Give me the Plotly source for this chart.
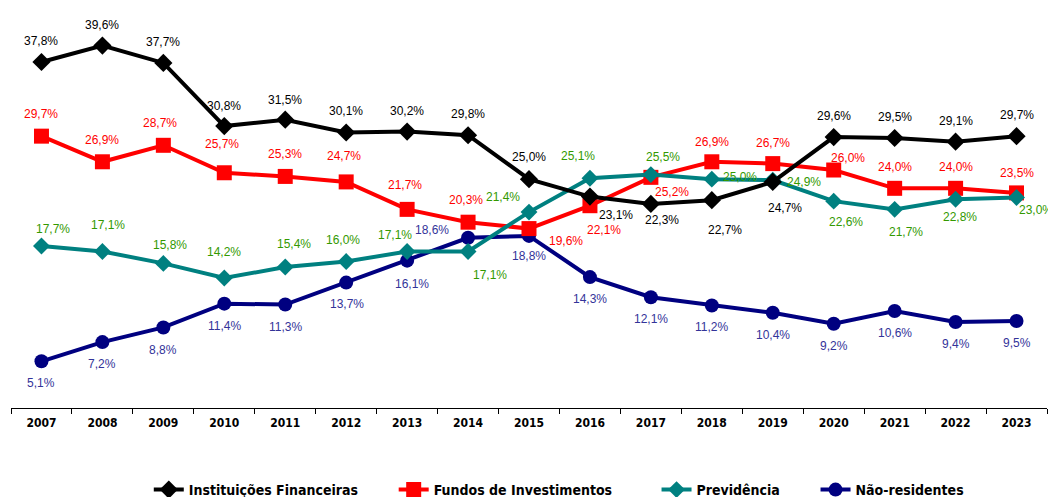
import plotly.graph_objects as go

years = [str(y) for y in range(2007, 2024)]
inst = [37.8, 39.6, 37.7, 30.8, 31.5, 30.1, 30.2, 29.8, 25.0, 23.1, 22.3, 22.7, 24.7, 29.6, 29.5, 29.1, 29.7]
fundos = [29.7, 26.9, 28.7, 25.7, 25.3, 24.7, 21.7, 20.3, 19.6, 22.1, 25.2, 26.9, 26.7, 26.0, 24.0, 24.0, 23.5]
prev = [17.7, 17.1, 15.8, 14.2, 15.4, 16.0, 17.1, 17.1, 21.4, 25.1, 25.5, 25.0, 24.9, 22.6, 21.7, 22.8, 23.0]
nres = [5.1, 7.2, 8.8, 11.4, 11.3, 13.7, 16.1, 18.6, 18.8, 14.3, 12.1, 11.2, 10.4, 9.2, 10.6, 9.4, 9.5]

names = ["Instituições Financeiras", "Fundos de Investimentos", "Previdência", "Não-residentes"]

# label pixel offsets (dx, dy) ; dy positive = downward on screen
off_inst = [(0, -21), (0, -21), (0, -21), (0, -20), (0, -20), (0, -21), (0, -21), (0, -21), (0, -22),
            (26, 18), (11, 16), (13, 30), (12, 26), (0, -21), (0, -21), (0, -21), (0, -21)]
off_fund = [(0, -22), (0, -22), (-3, -22), (-2, -29), (0, -22), (-2, -26), (-2, -24), (-2, -22), (37, 12),
            (14, 24), (21, 15), (0, -20), (0, -21), (14, -12), (0, -21), (0, -21), (0, -20)]
off_prev = [(12, -17), (6, -26), (7, -18), (0, -26), (9, -23), (-3, -22), (-12, -16), (22, 24), (-26, -15),
            (-12, -22), (12, -18), (28, -2), (31, 2), (12, 21), (11, 23), (4, 18), (19, 13)]
off_nres = [(0, 22), (0, 22), (0, 23), (0, 22), (0, 22), (1, 21), (5, 23), (-36, -8), (0, 20),
            (0, 22), (0, 22), (0, 22), (0, 22), (0, 22), (0, 22), (0, 22), (0, 22)]

NB = "\u00a0"
series = [
    dict(name=names[3], y=nres, color="#000080", lab="#333399", sym="circle", size=14, off=off_nres, rank=4, pad=""),
    dict(name=names[1], y=fundos, color="#FF0000", lab="#FF0000", sym="square", size=15, off=off_fund, rank=2, pad=NB * 9),
    dict(name=names[2], y=prev, color="#008080", lab="#339900", sym="diamond", size=13, off=off_prev, rank=3, pad=NB * 7),
    dict(name=names[0], y=inst, color="#000000", lab="#000000", sym="diamond", size=14, off=off_inst, rank=1, pad=NB * 7),
]

NARROW = "DejaVu Sans Condensed, Liberation Sans Narrow, Arial Narrow, sans-serif"

fig = go.Figure()
annotations = []
for s in series:
    fig.add_trace(go.Scatter(
        x=years, y=s["y"], name=s["name"] + s["pad"], mode="lines+markers",
        line=dict(color=s["color"], width=4),
        marker=dict(symbol=s["sym"], size=s["size"], color=s["color"]),
        legendrank=s["rank"], cliponaxis=False,
    ))
    for i, (v, (dx, dy)) in enumerate(zip(s["y"], s["off"])):
        annotations.append(dict(
            x=i, y=v, xref="x", yref="y", showarrow=False,
            text=f"{v:.1f}%".replace(".", ","),
            xshift=dx, yshift=-dy,
            font=dict(family="Liberation Sans, Arial, sans-serif", size=12, color=s["lab"]),
        ))

fig.update_layout(
    width=1056, height=497,
    margin=dict(l=3, r=17, t=0, b=97, autoexpand=False),
    plot_bgcolor="white", paper_bgcolor="white",
    annotations=annotations,
    showlegend=True,
    legend=dict(orientation="h", x=0.133, xanchor="left", y=-0.205, yanchor="middle",
                font=dict(family=NARROW, size=14, color="black", weight="bold"),
                itemwidth=30, traceorder="normal"),
)
fig.update_xaxes(
    type="category", range=[-0.5, 16.5], showgrid=False, showline=True, linecolor="black", linewidth=1,
    ticks="outside", tickson="boundaries", ticklen=5, tickcolor="black", ticklabelstandoff=4,
    tickfont=dict(family=NARROW, size=12, color="black", weight="bold"),
    zeroline=False, automargin=False,
)
fig.update_yaxes(range=[0, 43.7], showticklabels=False, showline=False, ticks="", showgrid=False,
                 zeroline=False, automargin=False)

fig.write_html("out.html")
